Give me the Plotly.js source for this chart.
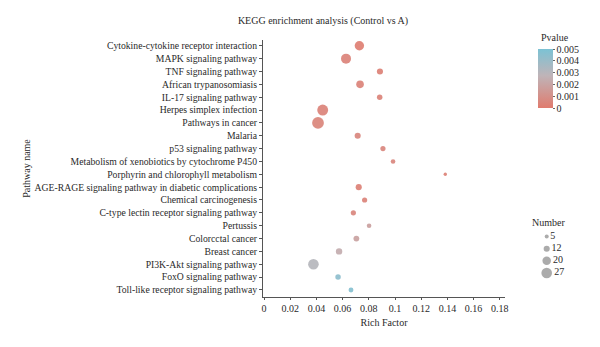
<!DOCTYPE html>
<html>
<head>
<meta charset="utf-8">
<script src="https://cdn.plot.ly/plotly-3.0.1.min.js"></script>
<style>html,body{margin:0;padding:0;background:#fff;}#chart{width:600px;height:347px;}</style>
</head>
<body>
<div id="chart"></div>
<script>
const pathways = [
  "Cytokine-cytokine receptor interaction",
  "MAPK signaling pathway",
  "TNF signaling pathway",
  "African trypanosomiasis",
  "IL-17 signaling pathway",
  "Herpes simplex infection",
  "Pathways in cancer",
  "Malaria",
  "p53 signaling pathway",
  "Metabolism of xenobiotics by cytochrome P450",
  "Porphyrin and chlorophyll metabolism",
  "AGE-RAGE signaling pathway in diabetic complications",
  "Chemical carcinogenesis",
  "C-type lectin receptor signaling pathway",
  "Pertussis",
  "Colorcctal cancer",
  "Breast cancer",
  "PI3K-Akt signaling pathway",
  "FoxO signaling pathway",
  "Toll-like receptor signaling pathway"
];
const richFactor = [0.0728, 0.0626, 0.0885, 0.0733, 0.0883, 0.0448, 0.0412, 0.0715, 0.0908, 0.0985,
                    0.1384, 0.0723, 0.0768, 0.0682, 0.0802, 0.0705, 0.0573, 0.0377, 0.0565, 0.0664];
const geneNumber = [23, 25, 12, 17, 10, 28, 31, 12, 9, 7,
                    3, 12, 9, 9, 7, 11, 13, 27, 10, 8];
const pValue = [0.0002, 0.0004, 0.0003, 0.0004, 0.0004, 0.0004, 0.0005, 0.0006, 0.0006, 0.0006,
                0.0003, 0.0003, 0.0004, 0.0006, 0.0018, 0.0019, 0.0024, 0.0031, 0.0044, 0.0047];
const xTicks = [0, 0.02, 0.04, 0.06, 0.08, 0.1, 0.12, 0.14, 0.16, 0.18];
const pTicks = [0, 0.001, 0.002, 0.003, 0.004, 0.005];
const sizeLegendValues = [5, 12, 20, 27];

const sizeOf = n => 2.5 + 0.3 * n;
const FONT = "Liberation Serif, Times New Roman, serif";
const TXT = "#2a2a2a";

// plot geometry (pixels)
const L = 263, R = 0, T = 40, B = 50, W = 600, H = 347;
const pw = W - L - R, ph = H - T - B;
const px2x = p => (p - L) / pw;
const py2y = p => (H - B - p) / ph;

const main = {
  type: "scatter", mode: "markers",
  x: richFactor, y: pathways,
  marker: {
    size: geneNumber.map(sizeOf),
    color: pValue, cmin: 0, cmax: 0.005,
    colorscale: [[0, "#E07B6E"], [0.55, "#BFB4B8"], [1, "#7CC2D4"]],
    line: {width: 0},
    opacity: 0.92,
    colorbar: {
      tickvals: pTicks, ticktext: pTicks.map(v => v === 0 ? "0" : v.toFixed(3)),
      tickfont: {family: FONT, size: 10, color: TXT},
      ticks: "outside", ticklen: 2, tickcolor: "#666",
      thickness: 15, thicknessmode: "pixels",
      len: 59, lenmode: "pixels",
      x: px2x(538), xanchor: "left", xpad: 0,
      y: py2y(49), yanchor: "top", ypad: 0,
      outlinewidth: 0
    }
  },
  showlegend: false, hoverinfo: "x+y"
};

const sizeLegend = {
  type: "scatter", mode: "markers+text",
  x: sizeLegendValues.map(() => 546.7),
  y: sizeLegendValues.map((v, i) => i),
  text: sizeLegendValues.map(String),
  textposition: "middle right",
  textfont: {family: FONT, size: 10, color: TXT},
  marker: {size: sizeLegendValues.map(sizeOf), color: "#888888", line: {width: 0}},
  xaxis: "x2", yaxis: "y2", showlegend: false, hoverinfo: "skip", cliponaxis: false
};

const layout = {
  width: W, height: H,
  margin: {l: L, r: R, t: T, b: B, pad: 0},
  paper_bgcolor: "#fff", plot_bgcolor: "#fff",
  font: {family: FONT, size: 10, color: TXT},
  title: {text: "KEGG enrichment analysis (Control vs A)", font: {family: FONT, size: 10, color: TXT},
          x: 323 / W, xanchor: "center", xref: "container", y: 1 - 20 / H, yanchor: "middle", yref: "container"},
  xaxis: {
    domain: [0, px2x(505)],
    range: [-0.0008, 0.184], autorange: false,
    tickvals: xTicks, ticktext: xTicks.map(String),
    ticks: "outside", ticklen: 2, tickcolor: "#555",
    showline: true, linecolor: "#555", linewidth: 1,
    showgrid: false, zeroline: false,
    tickfont: {family: FONT, size: 10, color: TXT},
    title: {text: "Rich Factor", font: {family: FONT, size: 10, color: TXT}, standoff: 5}
  },
  yaxis: {
    type: "category", categoryorder: "array", categoryarray: pathways,
    range: [19.55, -0.45], autorange: false,
    ticks: "outside", ticklen: 3, tickcolor: "#555",
    showline: true, linecolor: "#555", linewidth: 1,
    showgrid: false, zeroline: false,
    tickfont: {family: FONT, size: 9.7, color: TXT},
    title: {text: "Pathway name", font: {family: FONT, size: 10, color: TXT}, standoff: 2}
  },
  xaxis2: {domain: [px2x(530), 1], range: [530, 600], visible: false, fixedrange: true},
  yaxis2: {domain: [py2y(279), py2y(230.5)], range: [3.5, -0.5], visible: false, fixedrange: true},
  annotations: [
    {
      text: "Pvalue", xref: "paper", yref: "paper", x: px2x(539), y: py2y(37.5),
      xanchor: "left", yanchor: "middle", showarrow: false,
      font: {family: FONT, size: 10, color: TXT}
    },
    {
      text: "Number", xref: "paper", yref: "paper", x: px2x(530), y: py2y(222.5),
      xanchor: "left", yanchor: "middle", showarrow: false,
      font: {family: FONT, size: 10, color: TXT}
    }
  ]
};

Plotly.newPlot("chart", [main, sizeLegend], layout, {displayModeBar: false, staticPlot: true});
</script>
</body>
</html>
